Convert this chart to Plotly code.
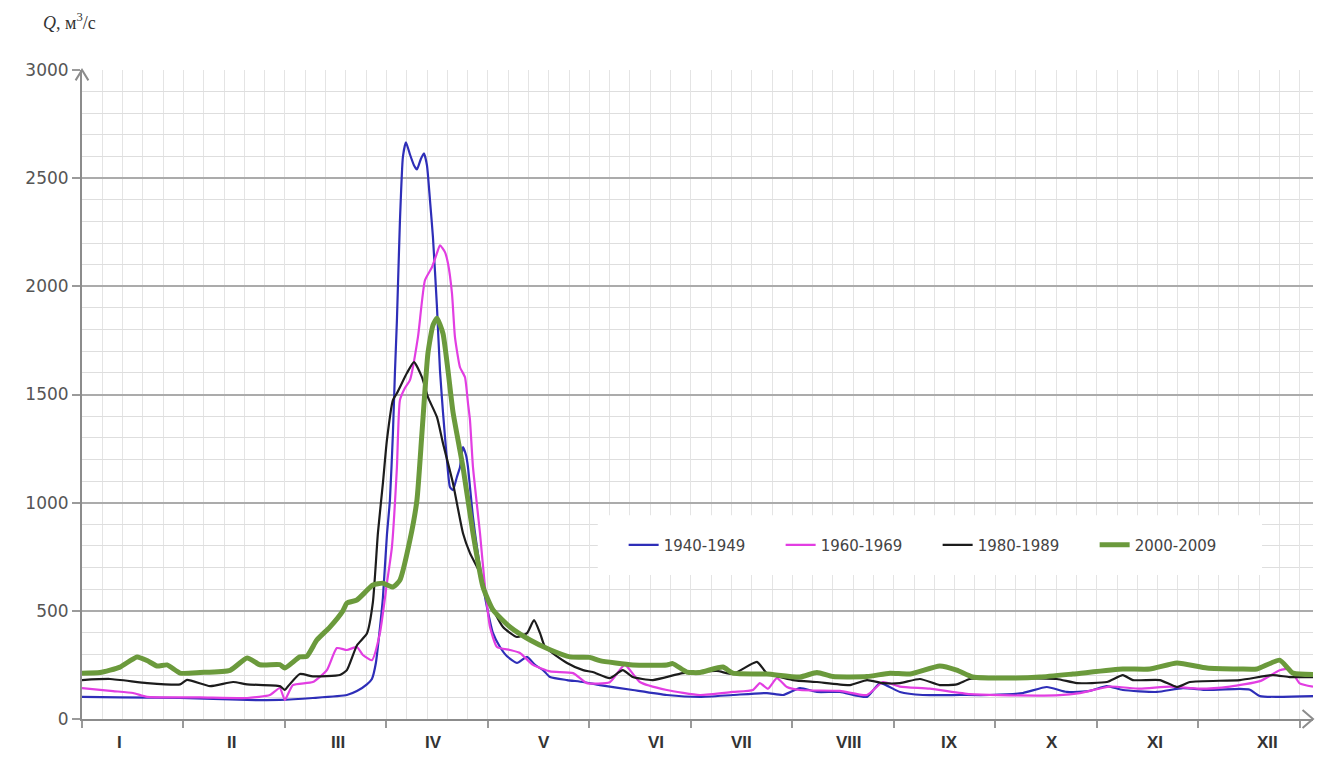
import plotly.graph_objects as go

# ---------------- data ----------------
months = ["I", "II", "III", "IV", "V", "VI", "VII", "VIII", "IX", "X", "XI", "XII"]
month_label_day = [11.1, 44.7, 76.7, 105.5, 138.5, 172.1, 197.8, 229.9, 260.1, 290.7, 321.6, 355.4]
month_edges = [0, 30.42, 60.83, 91.25, 121.67, 152.08, 182.5, 212.92, 243.33, 273.75, 304.17, 334.58, 365]

yticks = [0, 500, 1000, 1500, 2000, 2500, 3000]

# 1940-1949
d_1940 = [0, 11.4, 29.4, 49.5, 59.3, 69.2, 79.4, 82.4, 85.4, 86.9, 88.1, 89.3, 90.2, 91.4, 92.3, 93.2,
          93.8, 94.4, 95.3, 96.2, 97.1, 98.3, 99.5, 100.4, 101.6, 102.5, 103.4, 104.3, 105.2, 106.4,
          107.3, 108.2, 109.4, 110.3, 111.2, 112.4, 113.3, 114.2, 115.1, 115.7, 117.2, 119.3, 121.4,
          123.2, 125.3, 127.4, 130.4, 133.4, 135.8, 138.2, 140.3, 145.4, 150.2, 155.2, 165.1, 175.3,
          185.2, 195.1, 205.3, 210.1, 215.2, 220.3, 227.2, 235.3, 239.2, 245.2, 252.0, 263.1, 272.1,
          282.0, 289.2, 295.2, 302.1, 307.2, 312.0, 322.2, 330.0, 337.2, 347.1, 350.1, 353.1, 369.0]
q_1940 = [102, 100, 97, 88, 88, 97, 111, 129, 160, 185, 260, 420, 560, 850, 1012, 1321,
          1600, 1843, 2300, 2600, 2666, 2610, 2560, 2540, 2590, 2615, 2560, 2400, 2227, 1905,
          1612, 1420, 1197, 1072, 1058, 1120, 1164, 1257, 1220, 1164, 933, 702, 517,
          397, 333, 290, 259, 287, 250, 226, 194, 180, 171, 157, 134, 111,
          102, 111, 120, 111, 143, 125, 125, 102, 166, 125, 111, 111, 111,
          120, 148, 125, 130, 152, 134, 125, 143, 134, 139, 135, 106, 106]

# 1960-1969
d_1960 = [0, 9.3, 15.3, 19.5, 35.4, 49.5, 56.3, 59.3, 60.8, 63.2, 69.2, 73.4, 76.4, 79.4, 82.4, 84.2,
          86.9, 89.3, 91.4, 92.9, 94.4, 95.3, 96.8, 98.3, 100.7, 102.8, 104.9, 106.4, 107.3, 108.8,
          109.7, 110.9, 111.8, 113.3, 114.8, 115.7, 116.3, 117.2, 119.3, 120.8, 122.3, 124.4, 128.3,
          131.3, 135.2, 140.3, 147.2, 151.3, 158.2, 162.7, 167.2, 175.3, 185.2, 195.1, 201.1, 203.2,
          205.6, 208.3, 211.3, 215.2, 227.2, 235.3, 240.1, 245.2, 254.1, 266.1, 275.1, 293.1, 299.1,
          308.1, 317.1, 326.1, 335.1, 344.1, 353.1, 359.0, 362.0, 365.0, 369.0]
q_1960 = [143, 129, 120, 102, 100, 97, 111, 143, 88, 157, 171, 226, 328, 319, 333, 296,
          272, 397, 628, 795, 1164, 1474, 1530, 1566, 1765, 2028, 2088, 2153, 2190, 2158,
          2107, 1968, 1765, 1626, 1580, 1460, 1382, 1164, 859, 610, 425, 333, 319,
          305, 250, 220, 212, 166, 170, 250, 171, 134, 111, 125, 134, 166,
          140, 189, 148, 134, 130, 111, 171, 150, 140, 115, 110, 110, 120,
          150, 140, 150, 140, 150, 175, 225, 232, 165, 150]

# 1980-1989
d_1980 = [0, 8.4, 19.5, 29.4, 31.5, 38.4, 45.3, 49.5, 59.3, 60.8, 61.7, 65.3, 69.2, 77.3, 79.4, 82.4,
          85.4, 87.2, 88.7, 90.2, 91.4, 93.2, 94.4, 97.4, 99.5, 101.9, 103.7, 106.4, 108.2, 111.2,
          114.2, 116.3, 119.3, 121.4, 126.2, 130.4, 133.4, 135.5, 137.3, 138.8, 145.4, 150.2, 153.1,
          158.2, 162.1, 165.1, 171.1, 180.1, 190.3, 195.1, 202.3, 205.3, 213.1, 220.3, 230.2, 235.3,
          240.1, 245.2, 251.2, 257.1, 262.2, 266.1, 272.1, 282.0, 292.2, 298.2, 307.2, 312.0, 315.0,
          323.1, 328.2, 332.1, 347.1, 357.0, 362.0, 369.0]
q_1980 = [180, 185, 166, 160, 181, 152, 171, 160, 152, 134, 150, 208, 197, 203, 226, 340,
          395, 540, 859, 1090, 1289, 1474, 1506, 1599, 1650, 1580, 1488, 1395, 1275, 1090,
          859, 767, 675, 564, 425, 379, 397, 457, 397, 333, 259, 226, 217,
          189, 226, 194, 180, 212, 222, 208, 264, 212, 180, 171, 157, 180,
          166, 166, 185, 157, 160, 185, 189, 189, 185, 166, 171, 203, 180,
          180, 148, 171, 180, 203, 194, 194]

# 2000-2009
d_2000 = [0, 5.4, 11.4, 16.5, 19.5, 22.5, 25.5, 29.4, 35.4, 44.4, 49.5, 53.3, 59.3, 60.8, 65.3, 67.4,
          70.4, 74.3, 78.2, 79.4, 82.4, 87.2, 90.2, 93.2, 95.3, 98.3, 100.4, 101.9, 103.7, 105.2,
          106.4, 108.2, 109.7, 111.2, 114.2, 117.2, 120.2, 123.2, 128.3, 134.3, 140.3, 146.3, 152.2,
          155.2, 165.1, 175.3, 177.1, 181.3, 185.2, 192.1, 195.1, 205.3, 215.2, 220.3, 225.1, 235.3,
          242.2, 248.2, 257.1, 262.2, 267.0, 277.2, 287.1, 297.0, 312.0, 320.1, 328.2, 337.2, 347.1,
          352.2, 359.0, 363.0, 369.0]
q_2000 = [212, 215, 240, 287, 270, 245, 250, 212, 215, 225, 282, 251, 251, 236, 287, 290,
          365, 425, 500, 536, 550, 619, 628, 610, 642, 827, 1012, 1321, 1691, 1820,
          1853, 1783, 1612, 1420, 1164, 859, 610, 504, 425, 365, 320, 287, 285,
          270, 250, 250, 256, 217, 215, 240, 212, 208, 194, 215, 196, 196,
          212, 208, 245, 226, 194, 189, 194, 208, 231, 231, 259, 236, 231,
          231, 272, 212, 206]

series = [
    ("1940-1949", d_1940, q_1940, "#2e2eb8", 2.2),
    ("1960-1969", d_1960, q_1960, "#e23ee2", 2.2),
    ("1980-1989", d_1980, q_1980, "#1c1c1c", 2.2),
    ("2000-2009", d_2000, q_2000, "#6b9a3c", 5),
]

# ---------------- figure ----------------
fig = go.Figure()
for name, d, q, color, w in series:
    fig.add_trace(go.Scatter(
        x=d, y=q, name=name, mode="lines",
        line=dict(color=color, width=w, shape="spline", smoothing=0.5),
    ))

label_font = dict(family="Liberation Sans", size=17, color="#333333")
annotations = [
    dict(x=dx, y=0, xref="x", yref="y", yshift=-23, text="<b>%s</b>" % m,
         showarrow=False, font=label_font, xanchor="center", yanchor="middle")
    for m, dx in zip(months, month_label_day)
]
annotations.append(dict(
    x=-0.033, y=1.074, xref="paper", yref="paper", xanchor="left", yanchor="middle",
    text="<i>Q</i>, м<sup>3</sup>/с", showarrow=False,
    font=dict(family="Liberation Serif", size=18, color="#333333"),
))

axis_col = "#8c8c8c"
shapes = [
    # white legend panel covering the grid
    dict(type="rect", xref="paper", yref="paper", x0=0.419, x1=0.9586, y0=0.222, y1=0.314,
         fillcolor="white", line=dict(width=0), layer="above"),
    # arrow head on the y axis
    dict(type="path", xref="paper", yref="paper",
         path="M -0.0052,0.984 L 0,1.0 L 0.0052,0.984",
         line=dict(color=axis_col, width=2)),
    # arrow head on the x axis
    dict(type="path", xref="paper", yref="paper",
         path="M 0.9915,0.0139 L 1.0,0 L 0.9915,-0.0139",
         line=dict(color=axis_col, width=2)),
]

fig.update_layout(
    width=1330, height=758,
    margin=dict(l=82, r=17, t=70, b=39),
    paper_bgcolor="white", plot_bgcolor="white",
    showlegend=True,
    legend=dict(
        orientation="h", x=0.44, xanchor="left", y=0.268, yanchor="middle",
        bgcolor="rgba(255,255,255,0)", borderwidth=0,
        font=dict(family="DejaVu Sans", size=15, color="#444444"),
        entrywidth=112, itemwidth=30,
    ),
    annotations=annotations,
    shapes=shapes,
)

fig.update_xaxes(
    range=[0, 369],
    tickmode="array", tickvals=month_edges, showticklabels=False,
    ticks="outside", ticklen=7, tickwidth=1.5, tickcolor="#9a9a9a",
    showgrid=True, gridcolor="#e4e4e4", gridwidth=1,
    minor=dict(dtick=365 / 60, tick0=0, showgrid=True, gridcolor="#e4e4e4", gridwidth=1, ticks=""),
    showline=True, linecolor=axis_col, linewidth=2,
    zeroline=False,
)
fig.update_yaxes(
    range=[0, 3000],
    tickmode="array", tickvals=yticks,
    ticks="outside", ticklen=8, tickwidth=1.5, tickcolor="#9a9a9a",
    tickfont=dict(family="DejaVu Sans", size=17, color="#555555"),
    showgrid=True, gridcolor="#ababab", gridwidth=1.5,
    minor=dict(dtick=100, showgrid=True, gridcolor="#dedede", gridwidth=1, ticks=""),
    showline=True, linecolor=axis_col, linewidth=2,
    zeroline=False,
)

fig.write_html("out.html")
